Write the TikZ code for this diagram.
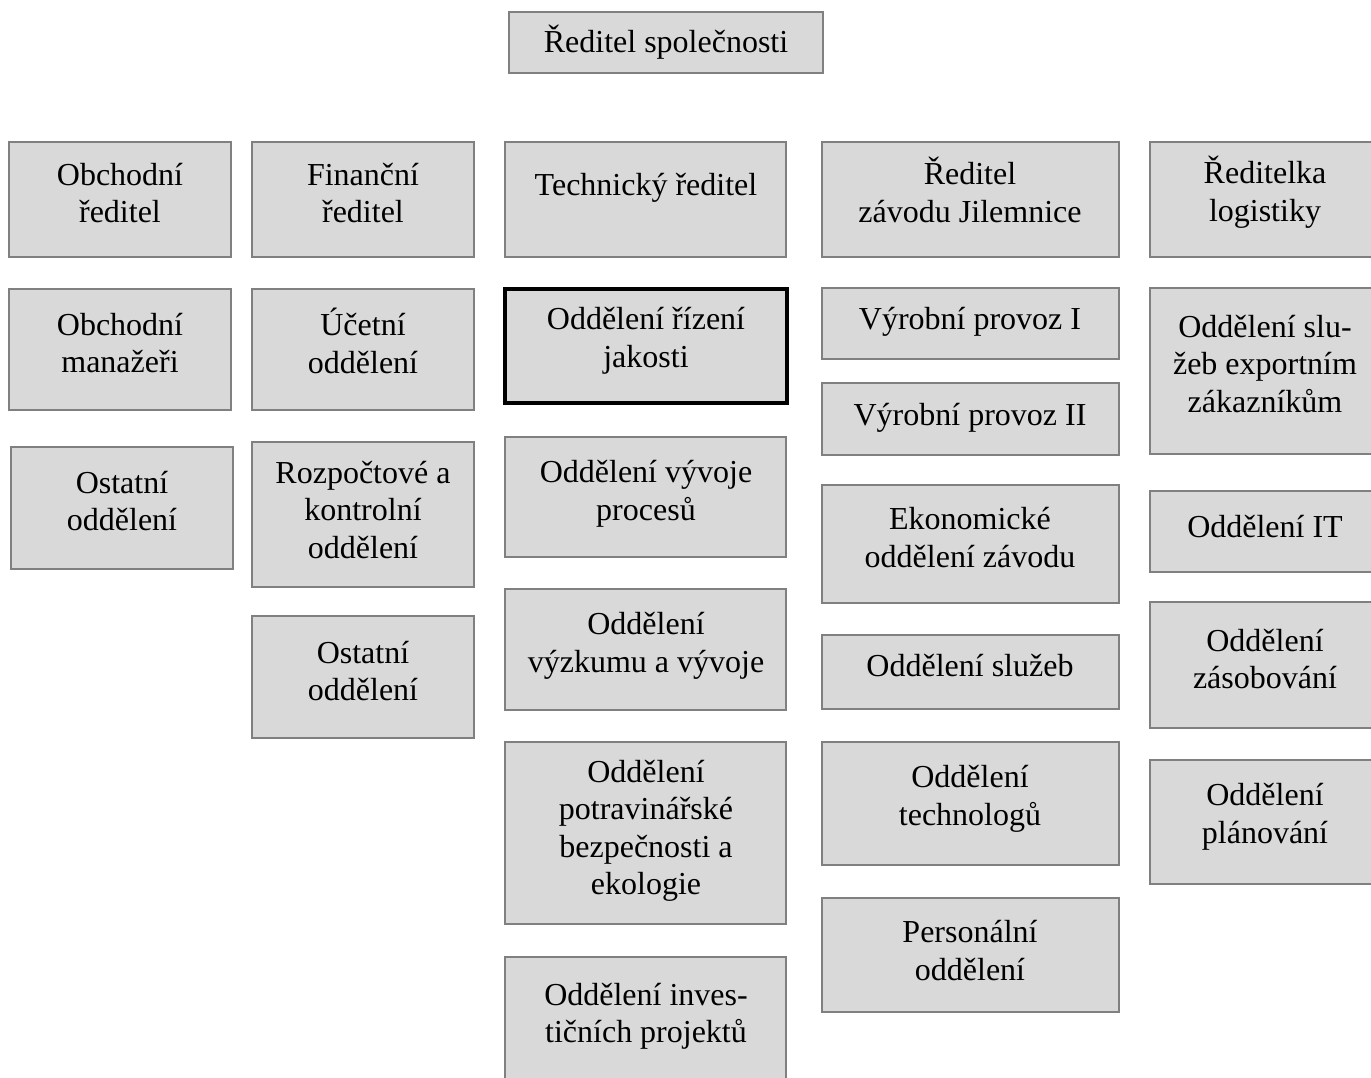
\documentclass[tikz,border=0pt]{standalone}
\usepackage{fontspec}
\setmainfont{Liberation Serif}
\definecolor{boxfill}{HTML}{D9D9D9}
\definecolor{boxline}{HTML}{808080}
\tikzset{
  boxs/.style={draw=boxline, fill=boxfill, line width=1pt},
  thickbox/.style={draw=black, fill=boxfill, line width=1.6pt},
  txt/.style={align=center, inner sep=0pt, font=\fontsize{16}{18.75}\selectfont, text=black}
}
% #1 name, #2 style, #3 x1, #4 y1, #5 x2, #6 y2, #7 text x, #8 text y, #9 text
\newcommand\obox[9]{%
  \path[#2] (#3,#4) rectangle (#5,#6);
  \node[txt] (#1) at (#7,#8) {#9};
}
\begin{document}
\begin{tikzpicture}[x=0.5pt,y=-0.5pt]
\useasboundingbox (0,0) rectangle (1371,1077);
\clip (0,0) rectangle (1371,1077);
\fill[white] (0,0) rectangle (1371,1077);
% top
\obox{ceo}{boxs}{509}{12}{823}{73}{666}{42}{Ředitel společnosti}
% row 1
\obox{obr}{boxs}{9}{142}{231}{257}{120}{193}{Obchodní\\ředitel}
\obox{fin}{boxs}{252}{142}{474}{257}{363}{193}{Finanční\\ředitel}
\obox{tech}{boxs}{505}{142}{786}{257}{646}{188}{Technický ředitel}
\obox{zav}{boxs}{822}{142}{1119}{257}{970}{190}{Ředitel\\závodu Jilemnice}
\obox{log}{boxs}{1150}{142}{1380}{257}{1265}{192}{Ředitelka\\logistiky}
% column 1
\obox{obm}{boxs}{9}{289}{231}{410}{120}{343}{Obchodní\\manažeři}
\obox{ost1}{boxs}{11}{447}{233}{569}{122}{501}{Ostatní\\oddělení}
% column 2
\obox{uce}{boxs}{252}{289}{474}{410}{363}{341}{Účetní\\oddělení}
\obox{roz}{boxs}{252}{442}{474}{587}{363}{510}{Rozpočtové a\\kontrolní\\oddělení}
\obox{ost2}{boxs}{252}{616}{474}{738}{363}{671}{Ostatní\\oddělení}
% column 3
\obox{jak}{thickbox}{505}{289}{787}{403}{646}{341}{Oddělení řízení\\jakosti}
\obox{vyv}{boxs}{505}{437}{786}{557}{646}{494}{Oddělení vývoje\\procesů}
\obox{vyz}{boxs}{505}{589}{786}{710}{646}{646}{Oddělení\\výzkumu a vývoje}
\obox{pot}{boxs}{505}{742}{786}{924}{646}{831}{Oddělení\\potravinářské\\bezpečnosti a\\ekologie}
\obox{inv}{boxs}{505}{957}{786}{1095}{646}{1016.5}{Oddělení inves-\\tičních projektů}
% column 4
\obox{vp1}{boxs}{822}{288}{1119}{359}{970}{321.5}{Výrobní provoz I}
\obox{vp2}{boxs}{822}{383}{1119}{455}{970}{417.5}{Výrobní provoz II}
\obox{eko}{boxs}{822}{485}{1119}{603}{970}{537.5}{Ekonomické\\oddělení závodu}
\obox{slu}{boxs}{822}{635}{1119}{709}{970}{666}{Oddělení služeb}
\obox{tec}{boxs}{822}{742}{1119}{865}{970}{799}{Oddělení\\technologů}
\obox{per}{boxs}{822}{898}{1119}{1012}{970}{950.5}{Personální\\oddělení}
% column 5
\obox{exp}{boxs}{1150}{288}{1380}{454}{1265}{364}{Oddělení slu-\\žeb exportním\\zákazníkům}
\obox{it}{boxs}{1150}{491}{1380}{572}{1265}{527}{Oddělení IT}
\obox{zas}{boxs}{1150}{602}{1380}{728}{1265}{659}{Oddělení\\zásobování}
\obox{pla}{boxs}{1150}{760}{1380}{884}{1265}{817}{Oddělení\\plánování}
\end{tikzpicture}
\end{document}
